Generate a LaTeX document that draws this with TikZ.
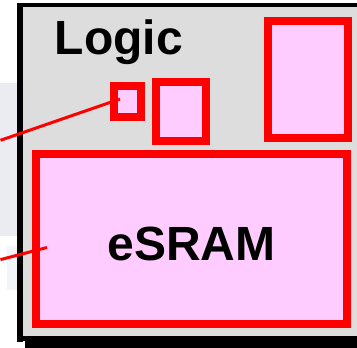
\documentclass[tikz,border=0pt]{standalone}
\usepackage{fontspec}
\setsansfont{Liberation Sans}
\usepackage{tikz}
\usetikzlibrary{positioning}
\definecolor{blockPink}{RGB}{255,204,255}
\definecolor{dieGray}{RGB}{221,221,221}
\definecolor{hazeBlue}{RGB}{234,236,241}
\newcommand{\blockLine}{8pt}

\begin{document}
\begin{tikzpicture}[x=1pt, y=-1pt,
		block/.style={draw=red, fill=blockPink, line width=\blockLine, inner sep=0pt},
		chiptext/.style={font=\sffamily\bfseries\fontsize{48}{48}\selectfont},
		wire/.style={draw=red, line width=3pt, line cap=butt}]
	\useasboundingbox (0,0) rectangle (357,348);
	\fill[white] (0,0) rectangle (357,348);
	% faint backdrop left of the die
	\fill[hazeBlue] (0,83) rectangle (17,236);
	\fill[hazeBlue!60] (7,246) rectangle (17,290);
	% die: grey body, top and left edges, shadow along the bottom
	\fill[dieGray] (23,7) rectangle (357,336);
	\fill[black] (17,3) rectangle (357,7);
	\fill[black] (17,3) rectangle (23,342);
	\fill[black] (23,336) rectangle (357,341);
	\fill[black] (25,341) rectangle (357,348);
	\node[chiptext, anchor=base west, inner sep=0pt] (logic) at (54.5,55) {Logic};
	% logic blocks
	\node[block, minimum width=26.5pt, minimum height=31.5pt] (cell) at (127.25,101.25) {};
	\node[block, minimum width=49.5pt, minimum height=59pt] (gate) at (180.75,111.5) {};
	\node[block, minimum width=80.5pt, minimum height=117pt] (macro) at (307.75,79.5) {};
	% memory
	\node[block, chiptext, minimum width=311pt, minimum height=170pt,
		text height=42pt, text depth=0pt] (esram) at (191.5,239) {eSRAM};
	%\node[right=of esram] {};
	% pointers coming in from the left
	\coordinate (inA) at (0.5,140.3);
	\coordinate (inB) at (0.5,259.6);
	\draw[wire] (inA) -- ([shift={(-7.25,-2.25)}]cell.center);
	\draw[wire] (inB) -- ([shift={(15,8.5)}]esram.west);
\end{tikzpicture}
\end{document}
